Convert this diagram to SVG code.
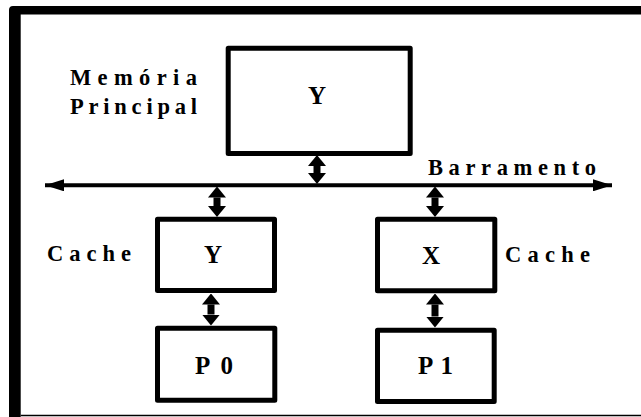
<svg xmlns="http://www.w3.org/2000/svg" width="641" height="417" viewBox="0 0 641 417">
  <style>
    .box { fill: #ffffff; stroke: #000000; stroke-width: 5; stroke-linejoin: round; }
    .lbl { font-family: "Liberation Serif", "Times New Roman", serif; font-weight: bold; font-size: 22.5px; fill: #000000; }
    .in { font-family: "Liberation Serif", "Times New Roman", serif; font-weight: bold; font-size: 25px; fill: #000000; }
    .dbl { stroke: #000000; stroke-width: 7; marker-start: url(#headUp); marker-end: url(#headDown); }
    .bus { stroke: #000000; stroke-width: 4; marker-start: url(#busL); marker-end: url(#busR); }
  </style>
  <defs>
    <marker id="headDown" markerUnits="userSpaceOnUse" viewBox="0 0 18 11" markerWidth="18" markerHeight="11" refX="9" refY="0" orient="0">
      <path d="M0,0 L18,0 L9,11 Z" fill="#000000"/>
    </marker>
    <marker id="headUp" markerUnits="userSpaceOnUse" viewBox="0 0 18 11" markerWidth="18" markerHeight="11" refX="9" refY="11" orient="0">
      <path d="M0,11 L18,11 L9,0 Z" fill="#000000"/>
    </marker>
    <marker id="busR" markerUnits="userSpaceOnUse" viewBox="0 0 19 12" markerWidth="19" markerHeight="12" refX="19" refY="6" orient="0">
      <path d="M0,0 L19,6 L0,12 Z" fill="#000000"/>
    </marker>
    <marker id="busL" markerUnits="userSpaceOnUse" viewBox="0 0 19 12" markerWidth="19" markerHeight="12" refX="0" refY="6" orient="0">
      <path d="M19,0 L0,6 L19,12 Z" fill="#000000"/>
    </marker>
  </defs>

  <g id="frame">
    <path d="M9,417 V10 Q9,6 13,6 H641 V14.5 H20.7 V417 Z" fill="#000000"/>
    <line x1="20.7" y1="415.5" x2="641" y2="415.5" stroke="#000000" stroke-width="1.5"/>
  </g>

  <g id="connectors">
    <line class="bus" x1="45" y1="185.3" x2="612" y2="185.3"/>
    <line class="dbl" x1="317" y1="166" x2="317" y2="173"/>
    <line class="dbl" x1="217" y1="197.5" x2="217" y2="206"/>
    <line class="dbl" x1="435" y1="197.5" x2="435" y2="206"/>
    <line class="dbl" x1="211" y1="304.5" x2="211" y2="314.5"/>
    <line class="dbl" x1="435" y1="304.5" x2="435" y2="316.5"/>
  </g>

  <g id="memoria">
    <rect class="box" x="228.2" y="48.2" width="182" height="105.3"/>
    <text class="in" x="317" y="103.5" text-anchor="middle">Y</text>
  </g>
  <g id="memoria-label">
    <text class="lbl" x="70" y="85" textLength="127" lengthAdjust="spacing">Memória</text>
    <text class="lbl" x="70" y="113.5" textLength="127" lengthAdjust="spacing">Principal</text>
  </g>
  <g id="barramento-label">
    <text class="lbl" x="428" y="174.5" textLength="168" lengthAdjust="spacing">Barramento</text>
  </g>
  <g id="cache0">
    <rect class="box" x="157.5" y="219.2" width="117" height="71.3"/>
    <text class="in" x="213" y="263" text-anchor="middle">Y</text>
    <text class="lbl" x="47" y="261" textLength="84" lengthAdjust="spacing">Cache</text>
  </g>
  <g id="cache1">
    <rect class="box" x="377.5" y="219.2" width="117.3" height="71.6"/>
    <text class="in" x="431" y="263.5" text-anchor="middle">X</text>
    <text class="lbl" x="505" y="261.5" textLength="85" lengthAdjust="spacing">Cache</text>
  </g>
  <g id="p0">
    <rect class="box" x="157.5" y="328.2" width="117.3" height="72"/>
    <text class="in" x="195" y="373.5" textLength="38" lengthAdjust="spacing">P 0</text>
  </g>
  <g id="p1">
    <rect class="box" x="377.5" y="330.2" width="116.7" height="71.3"/>
    <text class="in" x="418" y="373.5" textLength="35" lengthAdjust="spacing">P 1</text>
  </g>
</svg>
